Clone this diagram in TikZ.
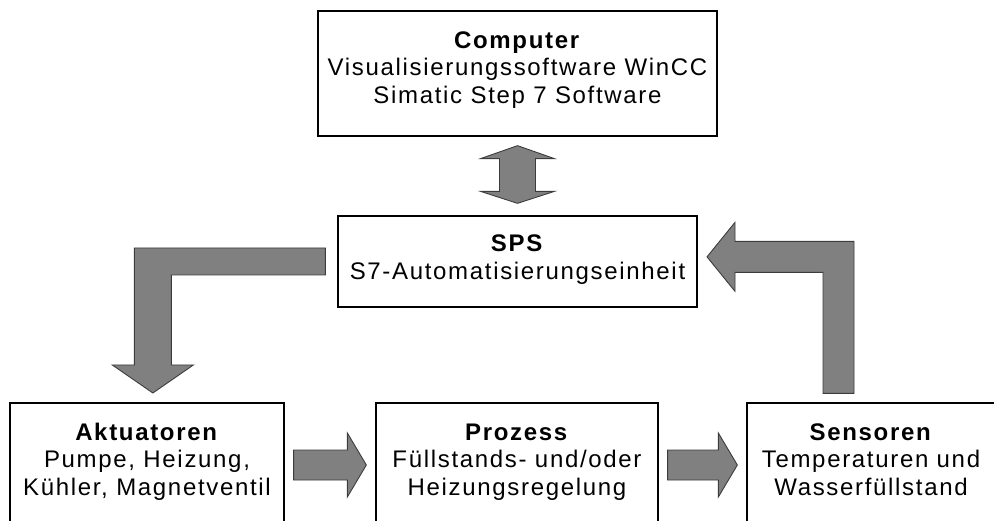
\documentclass[tikz,border=0pt]{standalone}
\usepackage{fontspec}
\setmainfont{Liberation Sans}[LetterSpace=7]
\usetikzlibrary{calc}
\definecolor{arrowgray}{HTML}{808080}
\definecolor{arrowline}{HTML}{3C3C3C}
\newcommand{\lowend}[1]{\rule[-#1pt]{0pt}{0pt}}
\tikzset{
  box/.style={draw, line width=1.3, align=center, inner sep=0},
  bottombox/.style={box, minimum height=120},
  blockarrow/.style={fill=arrowgray, draw=arrowline, line width=0.9, line join=miter},
}
\begin{document}
\begin{tikzpicture}[x=1pt, y=-1pt, font=\fontsize{24}{27.5}\selectfont]
  \useasboundingbox (0,0) rectangle (994,521);
  \node[box, minimum width=399, minimum height=125] (computer) at (517.5, 73.5)
    {\strut\textbf{Computer}\\Visualisierungssoftware WinCC\\Simatic Step 7 Software\lowend{15}};
  \node[box, minimum width=359, minimum height=91] (sps) at (517.5, 261.5)
    {\strut\textbf{SPS}\\S7-Automatisierungseinheit\lowend{11}};
  \node[bottombox, minimum width=274] (akt) at (147, 463)
    {\strut\textbf{Aktuatoren}\\Pumpe, Heizung,\\K\"uhler, Magnetventil\lowend{10}};
  \node[bottombox, minimum width=282] (proz) at (517, 463)
    {\strut\textbf{Prozess}\\F\"ullstands- und/oder\\Heizungsregelung\lowend{10}};
  \node[bottombox, minimum width=248] (sens) at (871, 463)
    {\strut\textbf{Sensoren}\\Temperaturen und\\Wasserf\"ullstand\lowend{10}};
  % Computer <-> SPS
  \coordinate (d1) at ($(computer.south)+(0,9)$);
  \coordinate (d2) at ($(sps.north)+(0,-12)$);
  \filldraw[blockarrow] (d1) -- ($(d1)+(37,13)$) -- ($(d1)+(18,13)$)
    -- ($(d2)+(18,-12)$) -- ($(d2)+(37,-12)$) -- (d2) -- ($(d2)+(-37,-12)$)
    -- ($(d2)+(-18,-12)$) -- ($(d1)+(-18,13)$) -- ($(d1)+(-37,13)$) -- cycle;
  % SPS -> Aktuatoren
  \coordinate (l1) at ($(sps.west)+(-12,0)$);
  \filldraw[blockarrow] ($(l1)+(0,-13.5)$) -- ++(-191,0) -- ++(0,117)
    -- ++(-22,0) -- ++(40.5,28) -- ++(40.5,-28) -- ++(-22,0) -- ++(0,-90)
    -- ++(154,0) -- cycle;
  % Sensoren -> SPS
  \coordinate (r1) at ($(sens.north)+(-32.5,-9)$);
  \filldraw[blockarrow] ($(r1)+(15.5,0)$) -- ++(0,-152) -- ++(-119,0)
    -- ++(0,-19) -- ++(-28,34.5) -- ++(28,34.5) -- ++(0,-19) -- ++(88,0)
    -- ++(0,121) -- cycle;
  \foreach \a/\b in {akt/proz, proz/sens}
    {
        \coordinate (s) at ($(\a.east)+(9,2)$);
        \coordinate (e) at ($(\b.west)+(-9,2)$);
        \filldraw[blockarrow] ($(s)+(0,-15)$) -- ($(e)+(-19,-15)$)
          -- ($(e)+(-19,-32)$) -- (e) -- ($(e)+(-19,32)$)
          -- ($(e)+(-19,15)$) -- ($(s)+(0,15)$) -- cycle;
    }
\end{tikzpicture}
\end{document}
